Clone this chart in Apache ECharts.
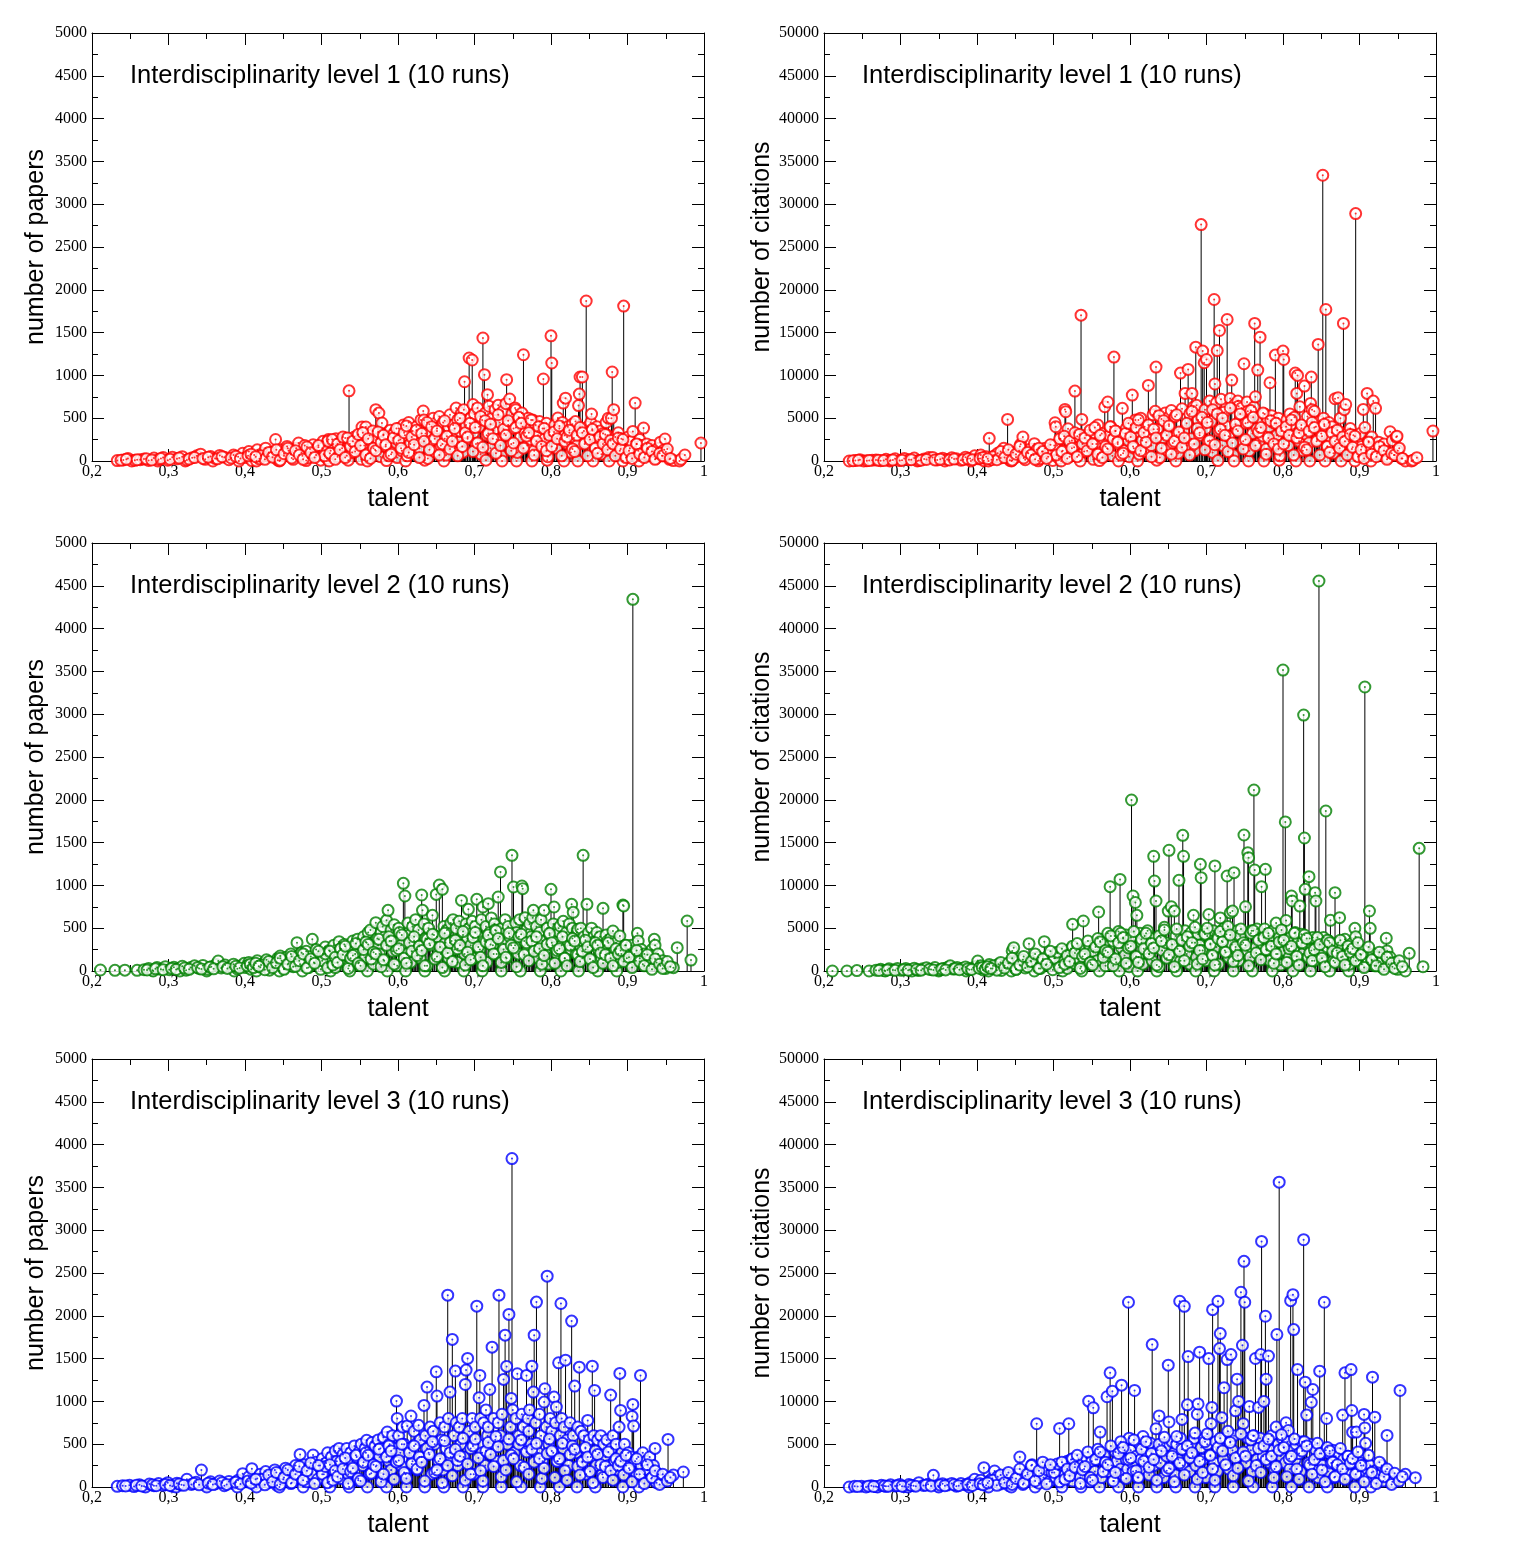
<!DOCTYPE html>
<html>
<head>
<meta charset="utf-8">
<title>Interdisciplinarity levels</title>
<script src="https://cdn.jsdelivr.net/npm/echarts@6/dist/echarts.min.js"></script>
<style>
  html, body { margin: 0; padding: 0; background: #fff; }
  #chart { width: 1526px; height: 1564px; }
</style>
</head>
<body>
<div id="chart"></div>
<script>
// level 1: one entry per agent (talent, papers, citations)
const talent1 = [
  0.233,0.241,0.247,0.252,0.256,0.263,0.268,0.274,0.281,0.286, 0.287,0.293,0.299,0.305,0.311,0.318,0.322,0.324,0.331,0.337, 0.342,0.348,0.355,0.358,0.361,0.367,0.373,0.379,0.385,0.391, 0.392,0.397,
  0.402,0.405,0.409,0.412,0.415,0.416,0.419,0.423,0.427,0.431, 0.435,0.44,0.443,0.445,0.447,0.451,0.455,0.457,0.46,0.463, 0.467,0.47,0.474,0.475,0.478,0.48,0.482,0.485,0.489,0.493, 0.496,0.497,0.499,
  0.502,0.503,0.505,0.507,0.509,0.51,0.512,0.515,0.516,0.519, 0.521,0.524,0.527,0.528,0.531,0.533,0.535,0.536,0.537,0.54, 0.543,0.546,0.549,0.552,0.553,0.556,0.558,0.56,0.561,0.563, 0.566,0.567,0.57,0.571,0.573,0.575,0.577,0.579,0.581,0.584, 0.585,0.587,0.59,0.592,0.595,0.598,0.599,
  0.601,0.603,0.605,0.607,0.609,0.61,0.612,0.614,0.616,0.619, 0.621,0.624,0.626,0.628,0.63,0.633,0.634,0.635,0.636,0.639, 0.641,0.643,0.646,0.648,0.651,0.654,0.656,0.659,0.66,0.661, 0.663,0.666,0.668,0.67,0.672,0.674,0.676,0.678,0.68,0.681, 0.683,0.685,0.686,0.687,0.689,0.691,0.693,0.695,0.697,0.698, 0.699,
  0.7,0.702,0.704,0.706,0.708,0.71,0.711,0.713,0.714,0.715, 0.716,0.717,0.719,0.721,0.723,0.725,0.727,0.729,0.731,0.733, 0.735,0.736,0.737,0.739,0.741,0.742,0.744,0.746,0.748,0.749, 0.751,0.753,0.754,0.755,0.756,0.758,0.76,0.762,0.763,0.764, 0.766,0.767,0.769,0.77,0.772,0.774,0.775,0.776,0.778,0.78, 0.782,0.783,0.785,0.787,0.789,0.79,0.792,0.794,0.795,0.796, 0.798,
  0.8,0.801,0.803,0.805,0.807,0.809,0.811,0.813,0.815,0.816, 0.817,0.818,0.819,0.821,0.822,0.824,0.826,0.828,0.83,0.832, 0.834,0.835,0.836,0.837,0.838,0.841,0.843,0.845,0.846,0.848, 0.85,0.852,0.853,0.854,0.855,0.856,0.858,0.86,0.862,0.864, 0.866,0.868,0.87,0.872,0.874,0.875,0.876,0.877,0.879,0.88, 0.882,0.884,0.886,0.888,0.89,0.892,0.894,0.895,0.897,0.899,
  0.901,0.903,0.905,0.907,0.909,0.91,0.912,0.914,0.915,0.916, 0.918,0.921,0.923,0.925,0.927,0.93,0.932,0.935,0.937,0.94, 0.943,0.945,0.948,0.949,0.95,0.955,0.96,0.968,0.97,0.975, 0.996,
  // dense part of the cloud
  0.501,0.504,0.508, 0.511,0.514,0.518, 0.521,0.524,0.528, 0.531,0.534,0.538, 0.541,0.544,0.548, 0.551,0.554,0.558, 0.561,0.564,0.568, 0.571,0.574,0.578, 0.581,0.584,0.588, 0.591,0.594,0.598,
  0.601,0.604,0.608, 0.611,0.614,0.618, 0.621,0.624,0.628, 0.631,0.634,0.638, 0.641,0.644,0.648, 0.651,0.654,0.658, 0.661,0.664,0.668, 0.671,0.674,0.678, 0.681,0.684,0.688, 0.691,0.694,0.698,
  0.701,0.704,0.708, 0.711,0.714,0.718, 0.721,0.724,0.728, 0.731,0.734,0.738, 0.741,0.744,0.748, 0.751,0.754,0.758, 0.761,0.764,0.768, 0.771,0.774,0.778, 0.781,0.784,0.788, 0.791,0.794,0.798,
  0.801,0.804,0.808, 0.811,0.814,0.818, 0.821,0.824,0.828, 0.831,0.834,0.838, 0.841,0.844,0.848, 0.851,0.854,0.858, 0.861,0.864,0.868, 0.871,0.874,0.878, 0.881,0.884,0.888, 0.891,0.894,0.898,
  0.421,0.426,0.431,0.436,0.441,0.446,0.451,0.456,0.461,0.466,0.471,0.476,0.481,0.486,0.491,0.496,
  0.902,0.906,0.912,0.916,0.922,0.926,0.932,0.936,0.942,0.946,0.952,0.956,
  0.238,0.245,0.259,0.271,0.278,0.29,0.302,0.314,0.327,0.334,0.345,0.352,0.364,0.37,0.382,0.388,0.394,0.404,0.408,0.414
];
const papers1 = [
  5,12,30,0,8,15,22,6,35,0, 18,40,10,45,25,50,0,12,38,60, 80,20,52,0,30,65,45,15,70,50, 0,90,
  40,110,5,70,0,130,25,90,150,55, 100,251,10,0,130,60,170,120,80,20, 150,210,100,60,180,5,35,140,190,70, 160,120,10,
  230,80,180,30,250,0,120,200,90,260, 50,220,150,180,270,60,10,820,200,100, 280,150,240,20,397,180,397,0,90,300, 220,350,130,600,260,560,50,444,310,170, 5,280,360,100,330,210,40,
  380,250,120,420,300,0,60,450,200,350, 90,400,270,150,480,584,479,10,320,30, 430,230,500,110,380,520,180,450,0,260, 70,400,540,300,420,150,619,480,220,350, 560,100,600,926,420,260,1203,500,1180,659, 330,
  550,200,620,400,80,480,1437,1008,560,10, 300,775,640,150,500,360,600,250,650,450, 60,0,580,320,670,950,420,724,200,550, 380,620,600,0,100,500,280,560,400,1241, 330,460,180,500,420,250,0,480,120,420, 350,300,460,200,380,958,260,440,10,50, 340,
  1462,1145,300,420,150,502,380,250,450,677, 0,300,734,200,400,330,100,430,270,460, 180,0,647,782,981,981,350,220,1869,400, 280,450,549,356,0,300,150,400,250,350, 80,320,220,450,300,500,0,150,500,1040, 600,280,200,330,120,260,0,1810,200,50,
  280,150,230,345,100,677,200,120,0,250, 180,385,80,200,140,60,180,100,30,150, 220,60,130,257,105,20,5,0,20,70, 210,
  150,60,230, 90,250,20, 200,130,280, 40,270,170, 230,110,310, 180,330,70, 260,30,150, 120,340,220, 300,190,60, 80,270,380,
  240,150,330, 410,100,280, 190,360,40, 320,230,450, 130,400,260, 350,70,200, 470,290,140, 230,380,60, 500,170,330, 280,440,110,
  390,210,520, 160,470,320, 430,260,90, 540,180,370, 300,470,120, 210,390,510, 440,150,290, 330,480,70, 230,400,170, 380,120,300,
  170,340,260, 410,60,230, 280,360,140, 110,300,390, 330,200,60, 250,370,150, 90,280,200, 310,130,240, 200,60,270, 140,250,40,
  60,20,100,45,130,10,85,150,35,120,70,20,165,95,40,180,
  120,30,200,80,40,150,110,20,90,60,140,30,
  10,20,15,25,12,28,20,35,22,40,30,45,25,50,35,55,30,60,80,50
];
const citations1 = [
  0,60,150,0,40,90,120,30,200,0, 100,260,50,300,160,350,0,70,240,400, 420,120,330,0,180,380,260,90,450,300, 0,600,
  250,700,30,500,0,2650,150,600,900,350, 1480,4860,80,0,1000,450,1200,1950,2800,150, 900,1400,700,2020,1300,20,250,1100,1500,500, 1200,900,60,
  4470,4000,1800,300,2600,0,1200,6030,5760,3770, 500,2400,1600,8170,2900,700,0,17040,4860,1100, 3000,1700,2800,200,3300,2000,4200,50,1000,3200, 2500,6340,1500,6890,3000,4000,600,12140,3500,2000, 0,3200,6150,1200,3800,2400,500,
  4200,7700,1500,4800,3400,0,800,5000,2400,4000, 1100,8830,3100,1800,5400,5800,10970,100,3700,400, 4900,2700,5600,1300,4300,5900,2100,5200,0,3000, 900,10270,6100,3500,7900,1800,10700,5500,2600,7900, 6300,1200,13300,6500,4800,3000,27620,12840,11480,6000, 3800,
  11860,2300,7000,4600,1000,18870,9000,6800,12900,50, 3500,15250,7200,1800,5700,4100,16530,2900,7300,9450, 700,0,6600,3700,7000,6400,4800,6200,2300,11360, 4400,6900,5800,0,1200,5700,3200,6300,16070,7500, 3800,10620,2100,14470,4800,2900,0,5500,1400,4900, 4000,9140,5300,2300,4400,12370,3000,5000,100,600, 3900,
  12840,11860,3400,4800,1800,5500,4300,2900,5100,10270, 0,7900,10000,2300,6340,3800,1200,8750,3100,5200, 2100,0,6730,9800,6000,5800,4000,2500,13620,4600, 3200,33380,5000,4100,0,17700,1700,4500,2800,4000, 900,7270,2500,7390,3400,5000,0,1800,16070,6000, 6600,3200,2300,3800,1400,3000,0,28900,2300,600,
  3200,1700,6030,3900,1200,7900,2300,1400,0,2800, 7000,6150,900,2200,1600,700,2000,1100,400,3420, 2400,700,2800,2900,1200,300,0,0,100,390, 3500,
  1800,700,2600, 1100,2900,300, 2300,1500,3300, 500,3100,2000, 2700,1200,3600, 2000,3900,800, 3000,400,1700, 1400,4000,2600, 3500,2200,700, 900,3200,4400,
  2800,1700,3900, 4800,1200,3300, 2200,4200,500, 3700,2700,5300, 1500,4700,3000, 4100,800,2300, 5400,3400,1600, 2700,4400,700, 5800,2000,3800, 3300,5100,1300,
  4500,2400,6000, 1900,5500,3700, 5000,3000,1100, 6200,2100,4300, 3500,5500,1400, 2500,4500,5900, 5100,1800,3400, 3900,5600,800, 2700,4700,2000, 4400,1400,3500,
  2000,4000,3000, 4800,700,2700, 3300,4200,1600, 1300,3500,4500, 3900,2300,700, 2900,4300,1700, 1000,3300,2300, 3600,1500,2800, 2300,700,3100, 1600,2900,500,
  500,150,1100,400,1300,100,800,1700,350,1000,700,200,1500,1100,300,1900,
  1300,300,2200,800,500,1700,1200,200,900,700,1500,300,
  40,80,60,100,50,120,90,150,100,180,130,200,120,220,160,250,140,300,400,250
];

// level 2
const talent2 = [
  0.211,0.23,0.243,0.259,0.268,0.274,0.279,0.28,0.285,0.29, 0.296,0.301,0.307,0.312,0.315,0.318,0.323,0.329,0.334,0.34, 0.345,0.35,0.351,0.356,0.362,0.365,0.369,0.374,0.38,0.385, 0.386,0.39,0.395,0.399,
  0.401,0.405,0.408,0.412,0.415,0.416,0.42,0.424,0.428,0.432, 0.436,0.44,0.443,0.445,0.446,0.448,0.451,0.454,0.457,0.46, 0.463,0.466,0.468,0.47,0.472,0.474,0.475,0.477,0.48,0.483, 0.486,0.488,0.49,0.493,0.496,0.499,
  0.502,0.505,0.507,0.51,0.512,0.513,0.516,0.518,0.521,0.523, 0.525,0.527,0.53,0.533,0.536,0.537,0.539,0.541,0.544,0.547, 0.549,0.552,0.555,0.557,0.559,0.56,0.561,0.564,0.566,0.568, 0.571,0.573,0.574,0.576,0.578,0.58,0.582,0.585,0.586,0.587, 0.589,0.591,0.593,0.595,0.597,0.599,
  0.601,0.602,0.604,0.607,0.609,0.61,0.611,0.613,0.615,0.617, 0.619,0.621,0.623,0.625,0.627,0.629,0.631,0.632,0.634,0.635, 0.636,0.638,0.64,0.642,0.645,0.647,0.65,0.651,0.654,0.656, 0.658,0.66,0.661,0.662,0.664,0.666,0.669,0.67,0.672,0.674, 0.676,0.678,0.68,0.683,0.685,0.686,0.687,0.689,0.691,0.692, 0.693,0.695,0.697,0.699,
  0.701,0.703,0.705,0.707,0.709,0.71,0.711,0.713,0.715,0.716, 0.718,0.72,0.722,0.724,0.726,0.727,0.729,0.731,0.733,0.734, 0.735,0.736,0.738,0.74,0.742,0.744,0.746,0.749,0.751,0.753, 0.754,0.755,0.757,0.759,0.76,0.762,0.763,0.765,0.766,0.768, 0.77,0.772,0.774,0.776,0.777,0.779,0.781,0.783,0.785,0.786, 0.787,0.789,0.791,0.793,0.795,0.797,0.798,
  0.8,0.802,0.803,0.804,0.806,0.808,0.81,0.811,0.812,0.813, 0.814,0.816,0.818,0.82,0.822,0.824,0.826,0.827,0.828,0.829, 0.831,0.833,0.834,0.835,0.836,0.837,0.839,0.841,0.842,0.843, 0.845,0.847,0.849,0.851,0.853,0.855,0.856,0.858,0.86,0.861, 0.862,0.864,0.866,0.868,0.87,0.872,0.874,0.876,0.878,0.881, 0.883,0.885,0.886,0.887,0.89,0.892,0.894,0.895,0.897,0.899,
  0.901,0.903,0.905,0.907,0.909,0.911,0.913,0.914,0.916,0.918, 0.92,0.922,0.925,0.928,0.93,0.932,0.935,0.936,0.938,0.94, 0.943,0.946,0.95,0.96,0.965,0.978,0.983,
  0.501,0.505,0.508, 0.511,0.515,0.518, 0.521,0.525,0.528, 0.531,0.535,0.538, 0.541,0.545,0.548, 0.551,0.555,0.558, 0.561,0.565,0.568, 0.571,0.575,0.578, 0.581,0.585,0.588, 0.591,0.595,0.598,
  0.601,0.605,0.608, 0.611,0.615,0.618, 0.621,0.625,0.628, 0.631,0.635,0.638, 0.641,0.645,0.648, 0.651,0.655,0.658, 0.661,0.665,0.668, 0.671,0.675,0.678, 0.681,0.685,0.688, 0.691,0.695,0.698,
  0.701,0.705,0.708, 0.711,0.715,0.718, 0.721,0.725,0.728, 0.731,0.735,0.738, 0.741,0.745,0.748, 0.751,0.755,0.758, 0.761,0.765,0.768, 0.771,0.775,0.778, 0.781,0.785,0.788, 0.791,0.795,0.798,
  0.801,0.805,0.808, 0.811,0.815,0.818, 0.821,0.825,0.828, 0.831,0.835,0.838, 0.841,0.845,0.848, 0.851,0.855,0.858, 0.861,0.865,0.868, 0.871,0.875,0.878, 0.881,0.885,0.888, 0.891,0.895,0.898,
  0.421,0.426,0.431,0.436,0.441,0.446,0.451,0.456,0.461,0.466,0.471,0.476,0.481,0.486,0.491,0.496,
  0.902,0.906,0.912,0.916,0.922,0.926,0.932,0.936,0.942,0.946,0.952,0.956,
  0.272,0.283,0.293,0.304,0.31,0.321,0.327,0.338,0.343,0.354,0.359,0.371,0.377,0.388,0.393,0.403,0.407,0.411,0.414,0.418
];
const papers2 = [
  12,8,10,8,15,30,10,0,40,20, 50,15,45,25,0,55,10,40,60,30, 65,0,20,50,75,117,35,70,45,80, 0,25,60,90,
  40,100,20,70,0,120,45,90,130,10, 100,60,150,0,175,120,30,160,90,200, 50,140,331,180,80,214,0,130,230,40, 170,370,100,250,140,20,
  200,280,90,240,0,150,300,40,220,343, 260,120,310,180,60,0,280,350,200,370, 100,300,400,160,330,0,450,479,250,80, 565,380,300,200,450,520,120,592,0,709, 350,480,230,540,400,60,
  500,450,300,1024,876,0,200,560,420,100, 520,350,600,250,480,150,888,709,550,0, 380,60,500,300,650,420,895,400,1005,200, 954,520,0,330,480,150,560,350,600,250, 500,100,580,825,420,0,200,550,380,720, 500,300,580,150,
  520,837,400,250,600,0,748,350,520,100, 787,450,620,300,550,480,200,864,400,1157, 0,500,320,600,150,520,400,1351,981,300, 560,450,200,600,0,993,962,350,623,480, 250,550,400,623,709,300,520,150,450,0, 600,350,709,250,500,80,420,
  954,300,550,748,400,200,500,450,526,0, 300,580,150,450,350,550,250,779,500,685, 400,200,450,487,0,300,500,150,1351,400, 250,779,450,300,500,120,400,350,450,0, 250,400,150,732,300,420,350,200,380,467, 250,330,0,100,409,200,771,760,300,150,
  250,100,300,4342,200,120,440,350,150,250, 80,200,120,60,150,250,370,300,100,200, 60,120,30,39,273,584,128,
  120,200,40, 230,70,160, 100,260,190, 290,30,150, 180,320,90, 60,250,340, 310,140,220, 200,370,50, 130,300,400, 350,80,240,
  260,420,150, 90,330,230, 400,180,290, 240,60,370, 320,430,140, 170,280,40, 440,210,330, 110,360,260, 300,460,70, 220,130,390,
  450,280,160, 60,340,420, 310,200,470, 380,100,250, 160,440,300, 270,50,400, 430,190,330, 120,350,230, 400,260,80, 180,310,440,
  330,90,240, 260,400,150, 60,300,380, 350,190,110, 230,360,280, 140,40,330, 300,210,90, 190,330,150, 60,260,200, 240,110,300,
  70,15,110,40,95,150,20,80,170,55,120,200,35,140,90,230,
  160,40,240,110,60,190,20,140,80,30,110,50,
  12,25,15,30,18,35,20,40,22,45,25,50,30,55,35,60,80,40,90,55
];
const citations2 = [
  0,0,50,0,100,200,50,0,250,120, 300,80,280,150,0,330,60,250,380,180, 400,0,120,300,450,600,220,420,280,480, 0,150,380,550,
  1170,600,120,450,0,750,300,550,800,60, 650,400,1000,0,2340,2730,200,1100,600,1300, 350,950,3190,1200,550,1500,0,900,1600,300, 1200,3430,700,1800,1000,150,
  1500,2100,700,1800,0,1100,2300,300,1700,2600, 5450,900,2400,1400,500,0,5840,2700,1500,2900, 800,2300,3100,1200,6890,0,3500,3700,2000,600, 4400,3000,9850,1600,3500,4100,1000,4600,0,10700, 2700,3800,1800,4200,3100,500,
  3900,19980,8760,8000,6500,0,1600,4400,3300,800, 4100,2700,4700,2000,3800,1200,13400,10510,8180,0, 3000,500,3900,2400,5100,3300,7000,14100,7500,1600, 7000,4100,0,2600,10590,1200,15850,13400,4700,2000, 3900,800,4500,6500,3300,0,1600,4300,3000,12460, 10900,2400,4600,1200,
  4100,6600,3200,2000,4700,0,12270,2800,4100,800, 6200,3500,4900,2400,4300,11100,1600,6800,3100,7000, 0,11490,2500,4700,1200,4100,3100,15890,7500,2400, 13820,13240,1600,4700,0,21140,11800,2800,4900,3800, 2000,9850,3100,4900,11880,2400,4100,1200,3500,0, 4700,2800,5600,2000,3900,700,3300,
  35160,2400,17410,5900,3100,1600,3900,8760,8180,0, 2400,4500,1200,3500,7590,4300,2000,29900,15540,9540, 3100,1600,11020,3800,0,2400,3900,1200,9150,8180, 2000,45560,3500,2400,3900,1000,18690,2800,3500,0, 5920,3100,1200,9150,2400,3300,6230,1600,3000,3700, 2000,2600,0,800,3200,1600,4980,4000,2400,1200,
  2000,800,2400,33180,1600,1000,7010,4980,1200,2000, 600,1600,1000,500,1200,2000,3820,2340,800,1600, 500,1000,200,0,2060,14330,500,
  1500,2200,400, 2600,800,1800, 1100,2900,2100, 3200,300,1700, 2000,3500,1000, 700,2800,3800, 3400,1600,2400, 2200,4100,600, 1400,3300,4400, 3900,900,2700,
  2900,4600,1700, 1000,3700,2600, 4400,2000,3200, 2700,700,4100, 3500,4800,1500, 1900,3100,500, 4900,2300,3600, 1200,4000,2900, 3300,5100,800, 2400,1400,4300,
  5000,3100,1800, 700,3800,4600, 3400,2200,5200, 4200,1100,2800, 1800,4900,3300, 3000,600,4400, 4700,2100,3600, 1300,3900,2500, 4400,2900,900, 2000,3400,4800,
  3600,1000,2600, 2900,4400,1700, 700,3300,4200, 3800,2100,1200, 2500,3900,3100, 1500,500,3600, 3300,2300,1000, 2100,3600,1700, 700,2900,2200, 2600,1200,3300,
  600,100,1000,350,900,1500,200,700,1700,500,1100,2000,300,1400,800,2300,
  1900,400,2800,1300,600,2200,200,1600,900,300,1200,500,
  60,120,80,150,90,170,100,200,110,220,130,250,150,270,180,320,420,220,500,300
];

// level 3
const talent3 = [
  0.233,0.24,0.249,0.255,0.262,0.268,0.27,0.275,0.281,0.287, 0.293,0.299,0.305,0.31,0.311,0.317,0.324,0.33,0.336,0.343, 0.349,0.35,0.355,0.361,0.367,0.373,0.379,0.385,0.39,0.391, 0.397,
  0.402,0.405,0.409,0.412,0.415,0.416,0.42,0.423,0.427,0.431, 0.435,0.439,0.442,0.445,0.446,0.45,0.453,0.456,0.46,0.463, 0.466,0.469,0.472,0.475,0.476,0.478,0.481,0.484,0.487,0.489, 0.492,0.495,0.498,
  0.501,0.503,0.506,0.508,0.51,0.511,0.513,0.515,0.518,0.52, 0.523,0.525,0.528,0.53,0.533,0.535,0.536,0.538,0.54,0.543, 0.546,0.548,0.55,0.552,0.554,0.557,0.559,0.56,0.561,0.563, 0.566,0.568,0.57,0.572,0.574,0.576,0.577,0.579,0.581,0.583, 0.585,0.586,0.588,0.589,0.591,0.593,0.595,0.597,0.598,0.599,
  0.601,0.603,0.604,0.606,0.608,0.61,0.611,0.612,0.614,0.617, 0.619,0.621,0.623,0.625,0.627,0.629,0.631,0.634,0.635,0.636, 0.638,0.64,0.642,0.644,0.646,0.648,0.65,0.651,0.653,0.655, 0.657,0.659,0.66,0.661,0.663,0.665,0.666,0.668,0.669,0.671, 0.673,0.675,0.676,0.678,0.68,0.682,0.684,0.685,0.686,0.688, 0.689,0.691,0.693,0.695,0.697,0.699,
  0.701,0.703,0.705,0.706,0.707,0.708,0.71,0.711,0.712,0.714, 0.715,0.717,0.718,0.72,0.722,0.723,0.725,0.727,0.729,0.731, 0.732,0.734,0.735,0.736,0.738,0.74,0.742,0.743,0.745,0.747, 0.748,0.749,0.75,0.752,0.754,0.756,0.758,0.76,0.761,0.762, 0.764,0.766,0.768,0.77,0.771,0.772,0.774,0.775,0.777,0.778, 0.78,0.781,0.783,0.785,0.786,0.787,0.789,0.791,0.792,0.794, 0.795,0.797,0.799,
  0.801,0.803,0.804,0.806,0.807,0.809,0.81,0.811,0.812,0.813, 0.814,0.816,0.817,0.819,0.821,0.823,0.825,0.827,0.829,0.831, 0.833,0.834,0.835,0.837,0.839,0.841,0.843,0.845,0.846,0.848, 0.85,0.852,0.854,0.856,0.857,0.858,0.859,0.861,0.863,0.865, 0.867,0.869,0.871,0.873,0.875,0.878,0.879,0.881,0.883,0.885, 0.887,0.889,0.89,0.891,0.893,0.894,0.896,0.898,
  0.901,0.903,0.905,0.906,0.907,0.908,0.91,0.912,0.914,0.915, 0.917,0.918,0.92,0.922,0.924,0.926,0.929,0.931,0.934,0.936, 0.938,0.94,0.943,0.953,0.96,0.973,
  0.501,0.505,0.508, 0.511,0.515,0.518, 0.521,0.525,0.528, 0.531,0.535,0.538, 0.541,0.545,0.548, 0.551,0.555,0.558, 0.561,0.565,0.568, 0.571,0.575,0.578, 0.581,0.585,0.588, 0.591,0.595,0.598,
  0.601,0.605,0.608, 0.611,0.615,0.618, 0.621,0.625,0.628, 0.631,0.635,0.638, 0.641,0.645,0.648, 0.651,0.655,0.658, 0.661,0.665,0.668, 0.671,0.675,0.678, 0.681,0.685,0.688, 0.691,0.695,0.698,
  0.701,0.705,0.708, 0.711,0.715,0.718, 0.721,0.725,0.728, 0.731,0.735,0.738, 0.741,0.745,0.748, 0.751,0.755,0.758, 0.761,0.765,0.768, 0.771,0.775,0.778, 0.781,0.785,0.788, 0.791,0.795,0.798,
  0.801,0.805,0.808, 0.811,0.815,0.818, 0.821,0.825,0.828, 0.831,0.835,0.838, 0.841,0.845,0.848, 0.851,0.855,0.858, 0.861,0.865,0.868, 0.871,0.875,0.878, 0.881,0.885,0.888, 0.891,0.895,0.898,
  0.421,0.426,0.431,0.436,0.441,0.446,0.451,0.456,0.461,0.466,0.471,0.476,0.481,0.486,0.491,0.496,
  0.902,0.906,0.912,0.916,0.922,0.926,0.932,0.936,0.942,0.946,0.952,0.956,
  0.244,0.258,0.265,0.279,0.284,0.296,0.302,0.314,0.32,0.333,0.34,0.352,0.358,0.37,0.376,0.388,0.394,0.404,0.408,0.414
];
const papers3 = [
  8,15,20,5,25,10,0,35,15,40, 20,50,10,0,45,25,90,30,55,198, 20,0,60,35,70,15,65,40,0,80, 156,
  60,120,214,30,0,100,150,80,180,50, 130,200,20,0,160,90,220,140,40,190, 250,100,381,170,0,260,60,230,150,374, 290,90,250,
  330,150,280,400,60,0,350,200,420,300, 451,100,380,250,450,150,0,400,300,480, 350,80,420,500,250,450,545,0,350,150, 520,400,480,250,550,350,450,100,580,420, 0,642,300,500,200,600,450,300,1004,801,
  600,400,250,700,500,150,0,712,450,829, 300,650,500,200,720,550,350,953,0,600, 1167,400,700,150,650,500,1346,1062,300,750, 550,200,0,700,450,2241,800,1109,350,1724, 600,1354,750,250,700,500,800,0,350,1198, 1366,1502,650,450,800,150,
  700,2113,500,1043,1303,800,400,0,750,250, 900,600,700,1140,450,1634,800,550,300,750, 2241,600,0,850,1257,1774,1409,500,2016,700, 1035,3837,900,400,800,1323,600,250,0,850, 700,450,1303,800,650,900,500,1412,1109,1774, 750,2160,400,850,0,600,300,992,1148,700, 2463,500,800,
  650,400,1050,750,934,300,1451,0,600,2144, 800,450,700,1482,550,250,750,1938,600,1179, 400,0,700,1400,650,300,600,450,150,778, 550,350,1412,600,1128,0,250,550,400,600, 150,500,350,550,250,1074,450,600,300,500, 200,700,1327,895,400,0,500,250,
  400,200,350,825,965,712,300,150,350,0, 1303,250,400,150,300,200,350,100,250,451, 50,150,80,556,140,175,
  150,240,50, 260,80,190, 120,300,210, 340,40,180, 220,370,100, 70,290,400, 370,160,260, 240,440,60, 150,350,480, 420,90,290,
  310,500,170, 100,400,270, 480,210,350, 290,70,450, 380,530,170, 200,330,50, 540,250,400, 130,440,310, 360,570,80, 270,150,480,
  560,340,190, 70,420,520, 380,240,590, 470,120,310, 200,560,370, 330,60,500, 550,230,410, 150,440,290, 510,330,100, 220,390,560,
  420,110,300, 330,510,190, 80,380,480, 440,240,140, 290,460,350, 180,50,420, 380,260,110, 240,410,190, 80,330,250, 300,140,370,
  90,25,140,60,170,30,110,200,50,150,240,80,190,280,40,250,
  220,60,330,150,40,260,110,190,30,150,70,110,
  12,20,12,25,15,30,18,35,20,40,25,45,28,50,30,55,35,70,45,90
];
const citations3 = [
  0,80,100,0,150,50,0,200,80,250, 120,300,50,0,280,150,500,180,330,1360, 120,0,380,220,420,90,400,250,0,500, 900,
  400,800,2260,200,0,700,1000,1870,1200,350, 900,1400,150,0,1100,650,1500,3500,300,1300, 1700,700,2600,1200,0,7390,450,1600,1100,2500, 2000,650,1700,
  2300,1100,2000,6840,450,0,2500,1400,3000,7390, 3200,700,2700,1800,3200,1100,0,2900,2100,3400, 10030,600,3000,9250,1800,3200,3900,0,6420,1100, 3700,2800,10540,1800,13340,2500,11200,700,4100,3000, 0,4600,2100,11900,1400,4300,3200,2100,21580,5700,
  4300,2800,1800,11280,3600,1100,0,5100,3200,5900, 2100,4600,3600,1400,5100,16640,2500,6800,0,4300, 8300,2800,5000,1100,4600,3600,14230,7600,2100,5300, 3900,1400,0,5000,3200,21700,5700,7900,2500,21110, 4300,9600,15240,1800,5000,3600,5700,0,2500,8500, 9700,15750,4600,3200,5700,1100,
  5000,15000,3600,7400,9300,20720,2800,0,5300,1800, 21700,16170,17920,8100,3200,11600,5700,14890,2100,5300, 15470,4300,0,6000,8900,12600,10000,3600,22750,16560, 7400,26360,21580,2800,5700,9400,4300,1800,0,6000, 15010,3200,9300,5700,15470,28690,3600,10000,19950,12600, 5300,15300,2800,6000,0,4300,2100,7000,17810,5000, 35610,3600,5700,
  4600,2800,7500,5300,6600,2100,21770,0,4300,22470, 18390,3200,5000,13720,3900,1800,5300,28890,12250,8400, 2800,0,5000,9900,11390,2100,4300,3200,1100,13530, 3900,2500,21580,4300,8000,0,1800,3900,2800,4300, 1100,3600,2500,3900,1800,8400,3200,13340,2100,3600, 1400,13720,8940,6400,2800,0,6420,1800,
  2800,1400,2500,8480,6900,5100,2100,1100,2500,0, 12830,1800,8160,1100,2100,1400,2500,700,1800,6030, 1480,1100,600,11280,1480,1090,
  1700,2700,600, 2900,900,2100, 1300,3300,2300, 3700,400,2000, 2400,4100,1100, 800,3200,4400, 4100,1800,2900, 2600,4800,700, 1700,3900,5300, 4600,1000,3200,
  3400,5500,1900, 1100,4400,3000, 5300,2300,3900, 3200,800,5000, 4200,5800,1900, 2200,3600,600, 5900,2800,4400, 1400,4800,3400, 4000,6300,900, 3000,1700,5300,
  6200,3700,2100, 800,4600,5700, 4200,2600,6500, 5200,1300,3400, 2200,6200,4100, 3600,700,5500, 6000,2500,4500, 1700,4800,3200, 5600,3600,1100, 2400,4300,6100,
  4600,1200,3300, 3600,5600,2100, 900,4200,5300, 4800,2600,1500, 3200,5100,3900, 2000,600,4600, 4200,2900,1200, 2600,4500,2100, 900,3600,2800, 3300,1500,4100,
  800,200,1400,500,1700,300,1000,2100,450,1500,2500,700,1900,2900,350,2600,
  2500,600,3700,1700,400,2900,1200,2100,300,1600,700,1200,
  60,100,60,130,80,160,90,180,100,210,130,230,150,260,160,280,180,380,250,480
];

const talentTicks = [0.2, 0.3, 0.4, 0.5, 0.6, 0.7, 0.8, 0.9, 1];

const rows = [
  { level: 1, talent: talent1, papers: papers1, citations: citations1, color: '#ff0000', top: 33 },
  { level: 2, talent: talent2, papers: papers2, citations: citations2, color: '#008000', top: 543 },
  { level: 3, talent: talent3, papers: papers3, citations: citations3, color: '#0000ff', top: 1059 }
];
const columns = [
  { key: 'papers', left: 92, max: 5000, step: 500, name: 'number of papers', nameGap: 43 },
  { key: 'citations', left: 824, max: 50000, step: 5000, name: 'number of citations', nameGap: 47 }
];

const plotW = 612, plotH = 428;
const sans = 'Liberation Sans';
const serif = "'Liberation Serif', 'DejaVu Serif', serif";

function talentLabel(v) {
  if (Math.abs(v - 1) < 1e-9) return '1';
  return v.toFixed(1).replace('.', ',');
}

// vertical stem from zero up to the point
function renderStem(params, api) {
  const tip = api.coord([api.value(0), api.value(1)]);
  const foot = api.coord([api.value(0), 0]);
  return {
    type: 'line',
    shape: { x1: foot[0], y1: foot[1], x2: tip[0], y2: tip[1] },
    style: { stroke: '#000', lineWidth: 1 }
  };
}

const grid = [], xAxis = [], yAxis = [], series = [], title = [];
const black = { color: '#000', width: 1 };

rows.forEach(row => {
  if (row.talent.length !== row.papers.length || row.talent.length !== row.citations.length) {
    throw new Error('length mismatch level ' + row.level + ': ' + row.talent.length + ' ' + row.papers.length + ' ' + row.citations.length);
  }
  columns.forEach(col => {
    const g = grid.length;
    grid.push({ left: col.left, top: row.top, width: plotW, height: plotH });

    const tick = { show: true, inside: true, length: 12, lineStyle: black };
    const minor = { show: true, splitNumber: 2, length: 6, lineStyle: black };
    const line = { show: true, onZero: false, lineStyle: black };

    const xCommon = {
      type: 'value', gridIndex: g, min: talentTicks[0], max: talentTicks[talentTicks.length - 1], interval: 0.1,
      axisLine: line, axisTick: tick, minorTick: minor, splitLine: { show: false }
    };
    xAxis.push(Object.assign({}, xCommon, {
      position: 'bottom',
      name: 'talent', nameLocation: 'middle', nameGap: 26,
      nameTextStyle: { fontFamily: sans, fontSize: 25, color: '#000' },
      axisLabel: { fontFamily: serif, fontSize: 16, color: '#000', margin: 3, formatter: talentLabel }
    }));
    xAxis.push(Object.assign({}, xCommon, { position: 'top', axisLabel: { show: false } }));

    const yCommon = {
      type: 'value', gridIndex: g, min: 0, max: col.max, interval: col.step,
      axisLine: line, axisTick: tick, minorTick: minor, splitLine: { show: false }
    };
    yAxis.push(Object.assign({}, yCommon, {
      position: 'left',
      name: col.name, nameLocation: 'middle', nameGap: col.nameGap,
      nameTextStyle: { fontFamily: sans, fontSize: 25, color: '#000' },
      axisLabel: { fontFamily: serif, fontSize: 16, color: '#000', margin: 5, formatter: v => String(v) }
    }));
    yAxis.push(Object.assign({}, yCommon, { position: 'right', axisLabel: { show: false } }));

    const pts = row.talent.map((t, i) => [t, row[col.key][i]]);
    series.push({
      type: 'custom', xAxisIndex: 2 * g, yAxisIndex: 2 * g,
      data: pts, renderItem: renderStem, clip: false, silent: true, z: 1
    });
    series.push({
      type: 'scatter', xAxisIndex: 2 * g, yAxisIndex: 2 * g,
      data: pts, symbol: 'emptyCircle', symbolSize: 11, clip: false, silent: true, z: 2,
      itemStyle: { color: row.color, borderColor: row.color, borderWidth: 1.2 }
    });
    // dotted centre of each marker
    series.push({
      type: 'scatter', xAxisIndex: 2 * g, yAxisIndex: 2 * g,
      data: pts, symbol: 'circle', symbolSize: 2, clip: false, silent: true, z: 3,
      itemStyle: { color: row.color }
    });

    title.push({
      text: 'Interdisciplinarity level ' + row.level + ' (10 runs)',
      left: col.left + 38, top: row.top + 30, padding: 0,
      textStyle: { fontFamily: sans, fontSize: 25.5, fontWeight: 'normal', color: '#000' }
    });
  });
});

const chart = echarts.init(document.getElementById('chart'));
chart.setOption({
  animation: false,
  backgroundColor: '#fff',
  title: title,
  grid: grid,
  xAxis: xAxis,
  yAxis: yAxis,
  series: series
});
</script>
</body>
</html>
